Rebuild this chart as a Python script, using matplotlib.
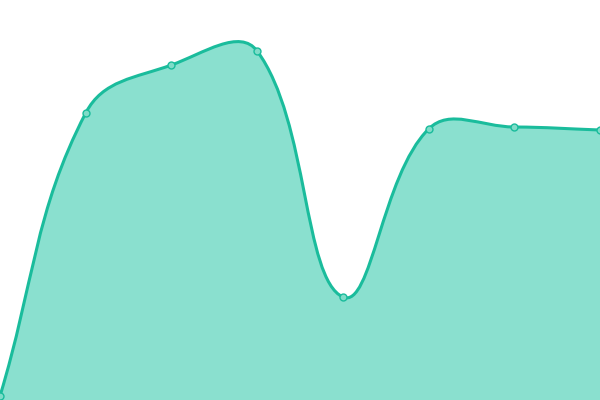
import numpy as np
import matplotlib
matplotlib.use("Agg")
import matplotlib.pyplot as plt
from matplotlib.path import Path
from matplotlib.patches import PathPatch

# values
labels = ["1", "2", "3", "4", "5", "6", "7", "8"]
values = [1, 71.75, 83.75, 87.25, 25.75, 67.75, 68.25, 67.5]

line_col = "#1abc9c"
fill_col = "#8ae0cf"
tension = 0.4

fig = plt.figure(figsize=(6, 4), dpi=100)
ax = fig.add_axes([0, 0, 1, 1])
ax.set_xlim(0, len(values) - 1)
ax.set_ylim(0, 100)
ax.axis("off")

x = np.arange(len(values), dtype=float)
pts = ax.transData.transform(np.column_stack([x, values]))


def spline_ctrl(prev, cur, nxt, t):
    # bezier control points like chart.js does it
    d01 = np.hypot(*(cur - prev))
    d12 = np.hypot(*(nxt - cur))
    tot = d01 + d12
    s01 = d01 / tot if tot else 0
    s12 = d12 / tot if tot else 0
    fa = t * s01
    fb = t * s12
    return cur - fa * (nxt - prev), cur + fb * (nxt - prev)


n = len(pts)
cin, cout = [], []
for i in range(n):
    prev = pts[i - 1] if i > 0 else pts[i]
    nxt = pts[i + 1] if i < n - 1 else pts[i]
    a, b = spline_ctrl(prev, pts[i], nxt, tension)
    cin.append(a)
    cout.append(b)

verts = [pts[0]]
codes = [Path.MOVETO]
for i in range(n - 1):
    verts += [cout[i], cin[i + 1], pts[i + 1]]
    codes += [Path.CURVE4] * 3

inv = ax.transData.inverted()
data_verts = inv.transform(np.array(verts))

line_path = Path(data_verts, codes)
fill_verts = np.vstack([data_verts, [[x[-1], 0], [x[0], 0], data_verts[0]]])
fill_codes = codes + [Path.LINETO, Path.LINETO, Path.CLOSEPOLY]

ax.add_patch(PathPatch(Path(fill_verts, fill_codes), facecolor=fill_col,
                       edgecolor="none", zorder=1))
ax.add_patch(PathPatch(line_path, facecolor="none", edgecolor=line_col,
                       lw=2.2, zorder=2, capstyle="round", joinstyle="round"))
ax.plot(x, values, "o", ms=5, mfc="#7fdcc8", mec=line_col, mew=1, zorder=3)

fig.savefig("out.png", dpi=100)
